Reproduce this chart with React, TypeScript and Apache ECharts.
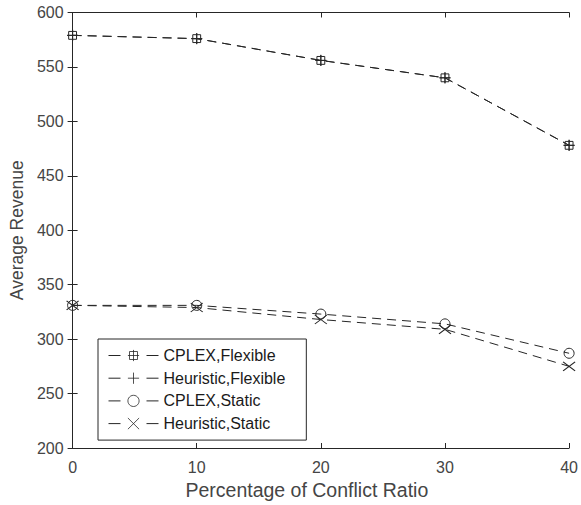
import React, { useEffect, useRef } from "react";
import * as echarts from "echarts";

// Conflict ratio (%) on the horizontal axis
const conflictRatio = [0, 10, 20, 30, 40];

// Average revenue per method and scheduling mode
const cplexFlexible = [579, 576, 556, 540, 478];
const heuristicFlexible = [579, 576, 556, 540, 478];
const cplexStatic = [331, 331, 323, 314, 287];
const heuristicStatic = [331, 329, 318, 309, 275];

const seriesNames = [
  "CPLEX,Flexible",
  "Heuristic,Flexible",
  "CPLEX,Static",
  "Heuristic,Static",
];

const yTicks = { min: 200, max: 600, interval: 50 };
const xTicks = { min: 0, max: 40, interval: 10 };

const FONT = "'Liberation Sans', Arial, Helvetica, sans-serif";
const INK = "#262626";
const TEXT = "#454545";

// Marker outlines
const SQUARE_PLUS = "path://M2,2H12V12H2Z M7,0V14 M0,7H14";
const PLUS = "path://M7,0V14 M0,7H14";
const CROSS = "path://M0,0L14,10 M14,0L0,10";

const makeSeries = (
  name: string,
  values: number[],
  symbol: string,
  symbolSize: number | number[],
  z: number
) => ({
  name,
  type: "line",
  data: conflictRatio.map((x, i) => [x, values[i]]),
  symbol,
  symbolSize,
  showSymbol: true,
  z,
  lineStyle: { color: INK, width: 1, type: [9, 6] },
  itemStyle: { color: "rgba(0,0,0,0)", borderColor: INK, borderWidth: 1 },
  emphasis: { disabled: true },
});

export default function App() {
  const ref = useRef<HTMLDivElement>(null);

  useEffect(() => {
    if (!ref.current) return;
    const chart = echarts.init(ref.current, null, { renderer: "svg" });

    const axisBase = {
      type: "value",
      axisLine: { show: true, lineStyle: { color: INK, width: 1 } },
      axisTick: { show: true, inside: true, length: 5, lineStyle: { color: INK } },
      splitLine: { show: false },
    };

    chart.setOption({
      animation: false,
      backgroundColor: "#ffffff",
      grid: { left: 72, right: 10, top: 12.5, bottom: 57 },
      xAxis: [
        {
          ...axisBase,
          position: "bottom",
          ...xTicks,
          name: "Percentage of Conflict Ratio",
          nameLocation: "middle",
          nameGap: 29,
          nameTextStyle: {
            fontFamily: FONT,
            fontSize: 19.5,
            color: TEXT,
            padding: [0, 28, 0, 0],
          },
          axisLabel: { fontFamily: FONT, fontSize: 16, color: TEXT, margin: 11 },
        },
        {
          ...axisBase,
          position: "top",
          ...xTicks,
          axisLabel: { show: false },
        },
      ],
      yAxis: [
        {
          ...axisBase,
          position: "left",
          ...yTicks,
          name: "Average Revenue",
          nameLocation: "middle",
          nameGap: 46,
          nameTextStyle: { fontFamily: FONT, fontSize: 17.5, color: TEXT },
          axisLabel: { fontFamily: FONT, fontSize: 16, color: TEXT, margin: 9 },
        },
        {
          ...axisBase,
          position: "right",
          ...yTicks,
          axisLabel: { show: false },
        },
      ],
      legend: {
        data: seriesNames,
        orient: "vertical",
        left: 98,
        top: 339,
        itemWidth: 50,
        itemHeight: 14,
        itemGap: 6.7,
        padding: [8.5, 21, 8.5, 10],
        borderColor: INK,
        borderWidth: 1,
        backgroundColor: "#ffffff",
        lineStyle: { type: [12, 26], width: 1 },
        itemStyle: { borderWidth: 0.8 },
        textStyle: { fontFamily: FONT, fontSize: 16, lineHeight: 14, color: "#1a1a1a" },
      },
      series: [
        makeSeries(seriesNames[0], cplexFlexible, SQUARE_PLUS, 11, 4),
        makeSeries(seriesNames[1], heuristicFlexible, PLUS, 11, 3),
        makeSeries(seriesNames[2], cplexStatic, "circle", 10, 2),
        makeSeries(seriesNames[3], heuristicStatic, CROSS, [12, 9], 1),
      ],
    });

    return () => chart.dispose();
  }, []);

  return (
    <div
      ref={ref}
      style={{ position: "absolute", left: 0, top: 0, width: 581, height: 505 }}
    />
  );
}
